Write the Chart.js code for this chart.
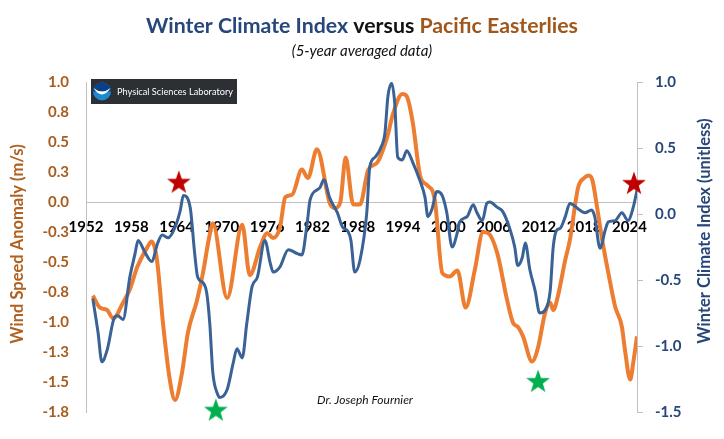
<!DOCTYPE html>
<html><head><meta charset="utf-8">
<script src="https://cdn.jsdelivr.net/npm/chart.js@4.4.1/dist/chart.umd.min.js"></script>
<style>html,body{margin:0;padding:0;background:#fff;}#wrap{width:724px;height:439px;position:relative;}</style>
</head><body><div id="wrap"><canvas id="c" width="724" height="439"></canvas></div>
<script>
// Pacific Easterlies: wind speed anomaly (m/s), left axis
const windYears = [1952.9,1953.85,1954.8,1955.6,1956.9,1957.8,1958.8,1960.1,1960.7,1961.4,1962.2,1963.1,1963.8,1964.7,1965.5,1966.7,1967.5,1968.3,1968.8,1970.7,1972.7,1973.7,1975.1,1976.0,1976.8,1977.7,1978.4,1979.3,1980.6,1981.4,1982.6,1984.3,1985.0,1985.7,1986.4,1987.4,1988.3,1989.4,1990.6,1991.9,1992.7,1993.9,1994.5,1995.3,1996.3,1997.2,1998.2,1999.2,2000.2,2001.2,2002.3,2003.5,2004.6,2005.3,2006.5,2007.8,2008.6,2009.2,2009.9,2011.1,2011.9,2012.8,2013.5,2013.9,2014.5,2015.5,2016.1,2017.2,2018.0,2018.6,2019.1,2019.7,2020.4,2021.2,2022.1,2023.0,2023.4,2024.1,2024.5,2025.0];
const windValues = [-0.78,-0.88,-0.90,-0.97,-0.84,-0.73,-0.54,-0.38,-0.33,-0.48,-1.01,-1.48,-1.65,-1.43,-1.09,-0.82,-0.59,-0.30,-0.18,-0.80,-0.19,-0.61,-0.37,-0.26,-0.30,-0.21,0.04,0.06,0.27,0.20,0.44,-0.01,-0.05,0.00,0.37,-0.02,-0.02,0.27,0.33,0.54,0.74,0.90,0.88,0.66,0.21,0.14,0.02,-0.59,-0.62,-0.57,-0.88,-0.57,-0.25,-0.26,-0.43,-0.82,-1.01,-1.04,-1.12,-1.33,-1.21,-0.93,-0.84,-0.90,-0.79,-0.48,-0.32,0.12,0.20,0.22,0.18,-0.04,-0.32,-0.59,-0.87,-1.04,-1.23,-1.48,-1.34,-1.12];
// Winter Climate Index (unitless), right axis
const wciYears = [1952.9,1953.6,1954.1,1954.8,1955.8,1956.2,1956.9,1957.8,1958.5,1958.9,1959.8,1960.7,1961.5,1962.1,1962.9,1963.8,1964.5,1964.9,1965.8,1966.4,1966.8,1967.5,1968.0,1968.4,1968.8,1969.4,1969.75,1970.7,1971.5,1972.0,1972.7,1973.3,1974.0,1974.7,1975.7,1976.4,1976.8,1977.7,1978.8,1980.0,1980.6,1981.3,1981.7,1983.0,1983.5,1984.3,1985.3,1986.0,1986.7,1987.1,1987.6,1988.3,1989.2,1989.6,1990.3,1991.2,1991.6,1992.0,1992.5,1992.9,1993.3,1993.9,1994.5,1995.3,1996.2,1996.9,1997.3,1997.8,1998.5,1999.2,1999.8,2000.5,2001.2,2001.5,2002.5,2003.3,2003.8,2004.5,2005.1,2005.5,2006.5,2007.2,2008.2,2008.8,2009.2,2009.8,2010.2,2010.8,2011.5,2012.1,2012.8,2013.5,2013.9,2014.4,2014.8,2015.5,2016.1,2016.5,2017.4,2018.1,2019.0,2019.4,2020.1,2020.8,2021.2,2022.1,2023.0,2023.8,2024.5,2025.0];
const wciValues = [-0.64,-0.90,-1.12,-1.03,-0.78,-0.77,-0.80,-0.48,-0.30,-0.20,-0.29,-0.36,-0.22,-0.16,-0.18,-0.10,0.03,0.14,0.05,-0.30,-0.48,-0.52,-0.60,-0.83,-1.20,-1.36,-1.39,-1.33,-1.13,-1.02,-1.09,-0.83,-0.55,-0.48,-0.20,-0.37,-0.44,-0.40,-0.27,-0.30,-0.31,-0.07,0.11,0.20,0.26,0.12,0.01,-0.10,-0.13,-0.20,-0.44,-0.35,0.01,0.36,0.43,0.52,0.61,0.89,0.99,0.84,0.43,0.41,0.48,0.39,0.26,0.13,-0.02,0.03,0.17,0.14,0.01,-0.25,-0.14,-0.06,-0.02,0.07,0.01,-0.05,0.08,0.09,0.05,0.02,-0.12,-0.25,-0.39,-0.33,-0.22,-0.42,-0.58,-0.75,-0.73,-0.58,-0.25,-0.12,-0.11,-0.02,0.08,0.07,0.03,0.01,0.03,-0.02,-0.26,-0.12,-0.06,-0.05,0.01,-0.05,0.05,0.18];
// Star markers (x = year, y = left-axis value)
const redStarYears = [1964.3, 2024.6];
const redStarValues = [0.17, 0.16];
const greenStarYears = [1969.2, 2011.9];
const greenStarValues = [-1.73, -1.49];
// Tick labels
const xTickYears = [1952,1958,1964,1970,1976,1982,1988,1994,2000,2006,2012,2018,2024];
const leftTickMin = -1.75, leftTickMax = 1.0, leftTickStep = 0.25;
const rightTickMin = -1.5, rightTickMax = 1.0, rightTickStep = 0.5;

const BLUE = '#3A6296', ORANGE = '#ED7D31';
const BLUE_TXT = '#27477A', BROWN_TXT = '#A85C1E';
const FONT = 'Lato, "Open Sans", sans-serif';

function zip(xs, ys){ return xs.map((x,i)=>({x:x, y:ys[i]})); }
function starCanvas(color, size){
  const c=document.createElement('canvas'); c.width=c.height=size;
  const g=c.getContext('2d'); g.fillStyle=color; g.beginPath();
  const R=size/2-0.5, r=R*0.4, cx=size/2, cy=size/2+R*0.095;
  for(let i=0;i<10;i++){const a=-Math.PI/2+i*Math.PI/5; const rad=i%2?r:R; g.lineTo(cx+rad*Math.cos(a), cy+rad*Math.sin(a));}
  g.closePath(); g.fill(); return c;
}
const redStar = starCanvas('#C00000', 26);
const greenStar = starCanvas('#00B050', 26);

const decor = {
  id:'decor',
  afterDraw(chart){
    const ctx = chart.ctx;
    ctx.save();
    // title
    const parts = [['Winter Climate Index ', BLUE_TXT], ['versus ', '#111111'], ['Pacific Easterlies', '#A0571B']];
    let size = 22;
    ctx.font = 'bold '+size+'px '+FONT;
    let w = parts.reduce((s,p)=>s+ctx.measureText(p[0]).width,0);
    size = size*432/w; ctx.font = 'bold '+size.toFixed(2)+'px '+FONT;
    w = parts.reduce((s,p)=>s+ctx.measureText(p[0]).width,0);
    let x = 362 - w/2;
    ctx.textBaseline = 'middle'; ctx.textAlign='left';
    for (const p of parts){ ctx.fillStyle=p[1]; ctx.fillText(p[0], x, 26); x += ctx.measureText(p[0]).width; }
    // subtitle
    ctx.font = 'italic 15px '+FONT; ctx.fillStyle='#111'; ctx.textAlign='center';
    ctx.fillText('(5-year averaged data)', 362, 51);
    // author
    ctx.font = 'italic 12px '+FONT; ctx.fillStyle='#111';
    ctx.fillText('Dr. Joseph Fournier', 365, 400);
    // axis titles
    ctx.font = 'bold 16.5px '+FONT;
    ctx.save(); ctx.translate(18, 244); ctx.rotate(-Math.PI/2); ctx.fillStyle='#B0601F'; ctx.textAlign='center';
    ctx.fillText('Wind Speed Anomaly (m/s)', 0, 0); ctx.restore();
    ctx.save(); ctx.translate(705, 231); ctx.rotate(-Math.PI/2); ctx.fillStyle=BLUE_TXT; ctx.textAlign='center';
    ctx.fillText('Winter Climate Index (unitless)', 0, 0); ctx.restore();
    // logo box
    ctx.fillStyle='#2C2F34'; ctx.fillRect(91,79,146,25);
    ctx.beginPath(); ctx.arc(102,91.5,9,0,Math.PI*2); ctx.fillStyle='#1C8ACD'; ctx.fill();
    ctx.beginPath(); ctx.arc(102,91.5,9,Math.PI,0); ctx.fillStyle='#0B3F8A'; ctx.fill();
    ctx.beginPath(); ctx.moveTo(93.5,88); ctx.quadraticCurveTo(102,101,110.5,88); ctx.quadraticCurveTo(102,95,93.5,88); ctx.fillStyle='#fff'; ctx.fill();
    ctx.font = '10px '+FONT; ctx.fillStyle='#fff'; ctx.textAlign='left';
    const label = 'Physical Sciences Laboratory';
    const lw = ctx.measureText(label).width;
    ctx.save(); ctx.translate(117, 92); ctx.scale(Math.min(1, 116/lw), 1); ctx.fillText(label, 0, 0); ctx.restore();
    ctx.restore();
  }
};

new Chart(document.getElementById('c'), {
  type:'line',
  data:{ datasets:[
    {label:'Red stars', type:'scatter', data:zip(redStarYears, redStarValues), yAxisID:'y', pointStyle:redStar, pointRadius:13, showLine:false, clip:false},
    {label:'Green stars', type:'scatter', data:zip(greenStarYears, greenStarValues), yAxisID:'y', pointStyle:greenStar, pointRadius:13, showLine:false, clip:false},
    {label:'Winter Climate Index', data:zip(wciYears, wciValues), yAxisID:'y1', borderColor:BLUE, borderWidth:3, pointRadius:0, cubicInterpolationMode:'monotone', fill:false},
    {label:'Pacific Easterlies', data:zip(windYears, windValues), yAxisID:'y', borderColor:ORANGE, borderWidth:4, pointRadius:0, cubicInterpolationMode:'monotone', fill:false}
  ]},
  options:{
    responsive:false, animation:false, devicePixelRatio:1,
    layout:{padding:{left:0,right:0,top:82,bottom:27}},
    plugins:{legend:{display:false}, tooltip:{enabled:false}, title:{display:false}},
    scales:{
      x:{ type:'linear', min:1952, max:2025, position:{y:0}, z:1,
        afterBuildTicks:s=>{ s.ticks = xTickYears.map(v=>({value:v})); },
        grid:{drawOnChartArea:false, drawTicks:false},
        border:{display:true, color:'#BFBFBF', width:1},
        ticks:{ autoSkip:false, maxRotation:0, padding:16, color:'#000', font:{family:FONT, size:15, weight:'bold'}, callback:v=>String(v) }
      },
      y:{ position:'left', min:leftTickMin, max:leftTickMax,
        afterFit:s=>{ s.width = 86; },
        grid:{drawOnChartArea:false, drawTicks:false},
        border:{display:true, color:'#BFBFBF', width:1},
        ticks:{ stepSize:leftTickStep, padding:17, color:BROWN_TXT, font:{family:FONT, size:15, weight:'bold'}, callback:v=>Number(v).toFixed(1) }
      },
      y1:{ position:'right', min:rightTickMin, max:rightTickMax,
        afterFit:s=>{ s.width = 87; },
        grid:{drawOnChartArea:false, drawTicks:true, tickLength:6, color:'#BFBFBF'},
        border:{display:true, color:'#BFBFBF', width:1},
        ticks:{ stepSize:rightTickStep, padding:12, color:BLUE_TXT, font:{family:FONT, size:15, weight:'bold'}, callback:v=>Number(v).toFixed(1) }
      }
    }
  },
  plugins:[decor]
});
</script></body></html>
